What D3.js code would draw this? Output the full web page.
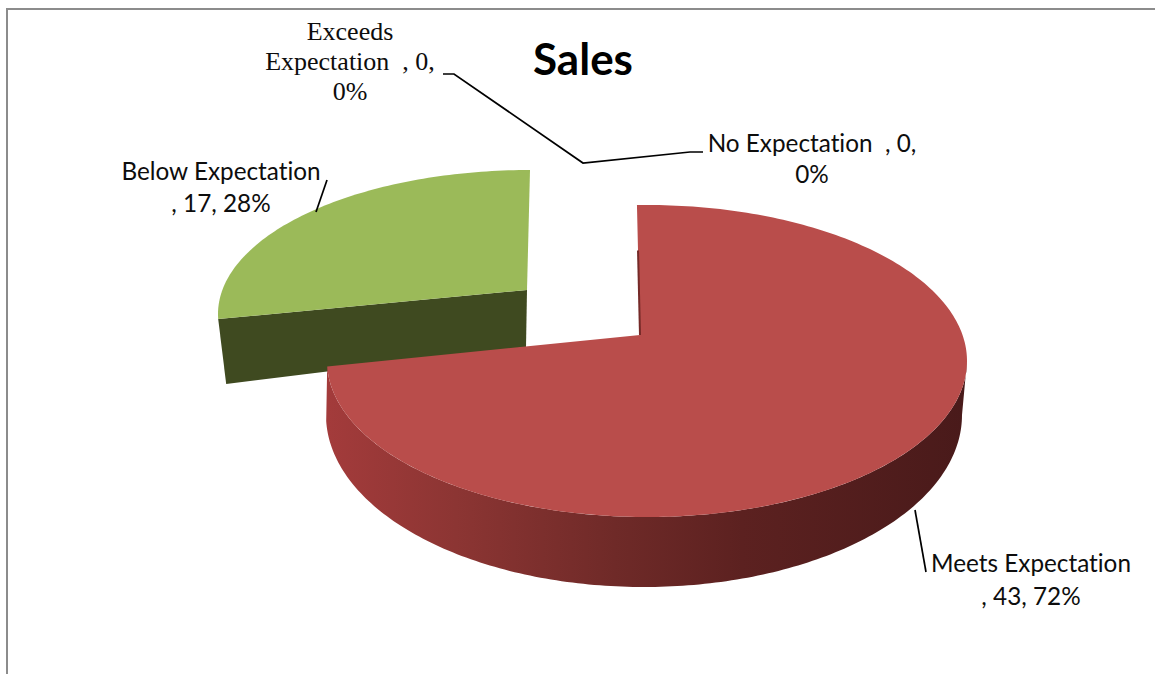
<!DOCTYPE html>
<html>
<head>
<meta charset="utf-8">
<script src="https://cdn.jsdelivr.net/npm/d3@7/dist/d3.min.js"></script>
<style>
html,body{margin:0;padding:0;background:#fff;overflow:hidden}
svg{display:block}
text{white-space:pre;fill:#0d0d0d;font-variant-ligatures:none}
</style>
</head>
<body>
<div id="chart"></div>
<script>
const categories = ["Meets Expectation", "Below Expectation", "Exceeds Expectation", "No Expectation"];
const values = [43, 17, 0, 0];
const percents = ["72%", "28%", "0%", "0%"];
const title = "Sales";

const W = 1155, H = 674;
const sans = "Lato, 'Open Sans', sans-serif";
const serif = "'Liberation Serif', serif";

// Projection of the tilted pie (layout only)
const geom = {
  "Meets Expectation": {top:{cx:647,cy:361,rx:320,ry:156}, low:{cx:644,cy:415,rx:318,ry:172}, apex:[640,335], fill:"#b94d4b"},
  "Below Expectation": {top:{cx:530,cy:314,rx:312,ry:144}, apex:[527,290], fill:"#9bba59", wall:"#3f4a20",
                        wallOffsetApex:[-1,57], wallOffsetRim:[8,65]}
};
const labelLayout = {
  "Meets Expectation": {x:1031, y:572, lh:33, font:sans, size:24.3, lines:d=>[d.name, `, ${d.value}, ${d.pct}`]},
  "Below Expectation": {x:221, y:180, lh:32, font:sans, size:24.3, lines:d=>[d.name, `, ${d.value}, ${d.pct}`]},
  "Exceeds Expectation": {x:350, y:40, lh:30, font:serif, size:26, lines:d=>["Exceeds", `Expectation  , ${d.value},`, d.pct]},
  "No Expectation": {x:812, y:152, lh:31, font:sans, size:24.3, lines:d=>[`${d.name}  , ${d.value},`, d.pct]}
};
const leaderLayout = [
  [[327,180],[316,212]],
  [[915,510],[926,572]],
  [[443,74],[454,74],[583,163],[690,152],[703,152]]
];

const svg = d3.select("#chart").append("svg").attr("width", W).attr("height", H);
const defs = svg.append("defs");
const grad = defs.append("linearGradient").attr("id","redWall")
  .attr("gradientUnits","userSpaceOnUse").attr("x1",328).attr("x2",966).attr("y1",0).attr("y2",0);
[[0,"#a33b3b"],[0.2,"#8c3533"],[0.45,"#6f2a28"],[0.65,"#5c2120"],[1,"#491a1a"]]
  .forEach(([o,c])=>grad.append("stop").attr("offset",o).attr("stop-color",c));

// chart frame
svg.append("path").attr("d", d3.line()([[7,H],[7,9],[W,9]]))
  .attr("fill","none").attr("stroke","#8c8c8c").attr("stroke-width",2);

// pie data
const data = categories.map((name,i)=>({name,value:values[i],pct:percents[i]}));
const pie = d3.pie().sort(null).value(d=>d.value)(data);

// pie angle (deg) -> angle on the projected ellipse (deg)
const warp = d3.scaleLinear().domain([0,258,360]).range([-1.8,268,360]);
const rim = (e,t)=>{const r=t*Math.PI/180;return [e.cx+e.rx*Math.sin(r), e.cy-e.ry*Math.cos(r)];};
const deg = a=>a*180/Math.PI;
const line = d3.line();
const arcPts = (e,t0,t1)=>{
  const n = Math.max(2,Math.ceil(Math.abs(t1-t0)));
  return d3.range(n+1).map(i=>rim(e,t0+(t1-t0)*i/n));
};

const gPie = svg.append("g");
const slice = name => pie.find(p=>p.data.name===name);

// Below Expectation (exploded, behind)
{
  const p = slice("Below Expectation"), g = geom[p.data.name];
  const t0 = warp(deg(p.startAngle)), t1 = warp(deg(p.endAngle));
  const end = rim(g.top,t0);
  gPie.append("path").attr("fill",g.wall).attr("d",line([
    g.apex, end,
    [end[0]+g.wallOffsetRim[0],end[1]+g.wallOffsetRim[1]],
    [g.apex[0]+g.wallOffsetApex[0],g.apex[1]+g.wallOffsetApex[1]]
  ])+"Z");
  gPie.append("path").attr("fill",g.fill).attr("d",line([g.apex,...arcPts(g.top,t0,t1)])+"Z");
}
// Meets Expectation
{
  const p = slice("Meets Expectation"), g = geom[p.data.name];
  const t0 = warp(deg(p.startAngle)), t1 = warp(deg(p.endAngle));
  gPie.append("path").attr("fill","url(#redWall)").attr("d",
    line([...arcPts(g.top,90,t1),...arcPts(g.low,t1,90)])+"Z");
  const pts = arcPts(g.top,t0,t1);
  gPie.append("path").attr("fill",g.fill).attr("d",line([g.apex,...pts])+"Z");
  // thin visible inner wall next to the apex
  const s = pts[0];
  gPie.append("path").attr("fill","none").attr("stroke","#752a28").attr("stroke-width",2)
    .attr("d",line([[d3.interpolate(s[0],g.apex[0])(0.35),d3.interpolate(s[1],g.apex[1])(0.35)],g.apex]));
}

// leader lines
svg.append("g").selectAll("path").data(leaderLayout).join("path")
  .attr("d",d=>line(d)).attr("fill","none").attr("stroke","#000").attr("stroke-width",1.7);

// labels
const lab = svg.append("g").selectAll("text").data(data).join("text")
  .attr("text-anchor","middle")
  .attr("font-family",d=>labelLayout[d.name].font)
  .attr("font-size",d=>labelLayout[d.name].size);
lab.each(function(d){
  const l = labelLayout[d.name];
  d3.select(this).selectAll("tspan").data(l.lines(d)).join("tspan")
    .attr("x",l.x).attr("y",(_,i)=>l.y+i*l.lh).text(t=>t);
});

// title
svg.append("text").attr("x",583).attr("y",75).attr("text-anchor","middle")
  .attr("font-family",sans).attr("font-weight",700).attr("font-size",44).style("fill","#000").text(title);
</script>
</body>
</html>
